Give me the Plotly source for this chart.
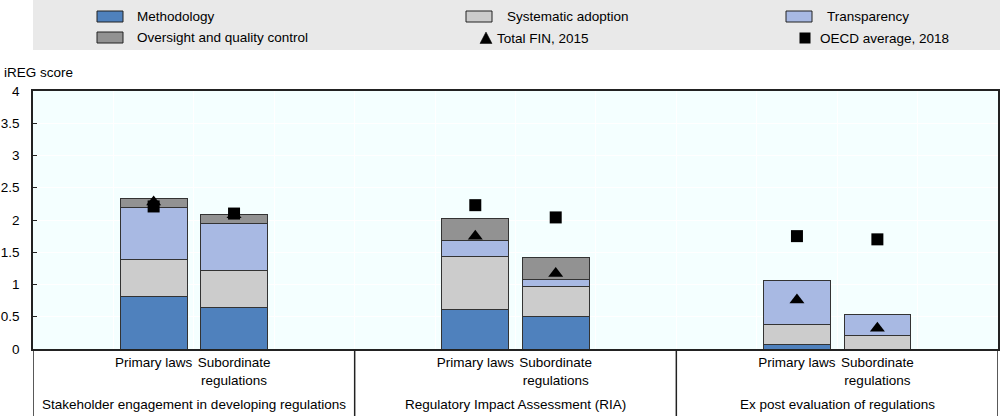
import plotly.graph_objects as go

# ---- data ----
groups = ["Stakeholder engagement in developing regulations",
          "Regulatory Impact Assessment (RIA)",
          "Ex post evaluation of regulations"]
subcats = ["Primary laws", "Subordinate<br>regulations"]

methodology = [0.81, 0.64, 0.61, 0.50, 0.07, 0.0]
systematic = [0.58, 0.58, 0.83, 0.47, 0.31, 0.21]
transparency = [0.81, 0.73, 0.24, 0.11, 0.68, 0.33]
oversight = [0.13, 0.13, 0.34, 0.34, 0.0, 0.0]
total_fin_2015 = [2.28, 2.08, 1.75, 1.17, 0.76, 0.32]
oecd_avg_2018 = [2.21, 2.10, 2.23, 2.04, 1.75, 1.70]

y_ticks = [0, 0.5, 1, 1.5, 2, 2.5, 3, 3.5, 4]
y_ticklabels = ["0", "0.5", "1", "1.5", "2", "2.5", "3", "3.5", "4"]

series = [
    ("Methodology", methodology, "#4f81bd"),
    ("Systematic adoption", systematic, "#cccccc"),
    ("Transparency", transparency, "#a8b9e3"),
    ("Oversight and quality control", oversight, "#929292"),
]

# ---- layout helpers ----
W, H = 1000, 416
L, R, T, B = 33, 2, 91, 67
PW, PH = W - L - R, H - T - B
FONT = "Liberation Sans, Arial, sans-serif"
FS = 13.5
SLOTS = 4  # slots per group: empty, primary, subordinate, empty


def px(x):
    return (x - L) / PW


def py(y):
    return (H - B - y) / PH


xpos = []
xlab = []
for g in range(len(groups)):
    for k in range(len(subcats)):
        xpos.append(g * SLOTS + 1 + k)
        xlab.append(subcats[k])

fig = go.Figure()
for name, vals, col in series:
    fig.add_trace(go.Bar(
        x=xpos, y=vals, name=name, width=0.83,
        marker=dict(color=col, line=dict(color="#333333", width=1)),
        showlegend=False))

fig.add_trace(go.Scatter(
    x=xpos, y=total_fin_2015, mode="markers", name="Total FIN, 2015",
    marker=dict(symbol="triangle-up", size=13, color="black"), showlegend=False))
fig.add_trace(go.Scatter(
    x=xpos, y=oecd_avg_2018, mode="markers", name="OECD average, 2018",
    marker=dict(symbol="square", size=12, color="black"), showlegend=False))

nslots = SLOTS * len(groups)
fig.update_layout(
    width=W, height=H,
    margin=dict(l=L, r=R, t=T, b=B, pad=0, autoexpand=False),
    barmode="stack",
    plot_bgcolor="#f4ffff",
    paper_bgcolor="white",
    font=dict(family=FONT, size=FS, color="black"),
    xaxis=dict(
        range=[-0.5, nslots - 0.5],
        tickvals=xpos, ticktext=xlab, tickangle=0, automargin=False,
        showgrid=False, zeroline=False,
        ticks="", ticklen=0,
        showline=True, linecolor="#222222", linewidth=1.5, mirror=True,
        tickfont=dict(size=FS),
        minor=dict(tickvals=[i + 0.5 for i in range(nslots - 1)],
                   showgrid=True, gridcolor="white", gridwidth=1, ticks=""),
    ),
    yaxis=dict(
        range=[0, 4], tickvals=y_ticks, ticktext=y_ticklabels, automargin=False,
        showgrid=True, gridcolor="white", gridwidth=1,
        zeroline=False, ticks="inside", ticklen=4, tickcolor="#222222",
        showline=True, linecolor="#222222", linewidth=1.5, mirror=True,
        tickfont=dict(size=FS), ticklabelstandoff=9,
    ),
)

shapes = []
annotations = []

# group separators below the axis
for sx in [-0.5] + [g * SLOTS - 0.5 for g in range(1, len(groups))] + [nslots - 0.5]:
    shapes.append(dict(type="line", xref="x", yref="paper", x0=sx, x1=sx,
                       y0=0, y1=py(H), line=dict(color="#222222", width=1.5)))

# group labels
for g, name in enumerate(groups):
    annotations.append(dict(x=g * SLOTS + 1.5, xref="x", y=py(404), yref="paper",
                            text=name, showarrow=False, xanchor="center",
                            yanchor="middle", font=dict(size=FS)))

# y axis title
annotations.append(dict(x=px(2), xref="paper", y=py(72), yref="paper",
                        text="iREG score", showarrow=False, xanchor="left",
                        yanchor="middle", font=dict(size=FS)))

# legend background
shapes.append(dict(type="rect", xref="paper", yref="paper",
                   x0=px(33), x1=px(1000), y0=py(50), y1=py(0),
                   fillcolor="#e9e9e9", line=dict(width=0), layer="below"))

# legend entries: (label, kind, color, swatch_x, text_x, row_y)
legend_items = [
    ("Methodology", "rect", "#4f81bd", 97, 135, 16.5),
    ("Systematic adoption", "rect", "#cccccc", 466, 505, 16.5),
    ("Transparency", "rect", "#a8b9e3", 786, 825, 16.5),
    ("Oversight and quality control", "rect", "#929292", 97, 135, 37.5),
    ("Total FIN, 2015", "tri", "black", 486, 495, 38),
    ("OECD average, 2018", "sq", "black", 805, 818, 38),
]
for label, kind, col, sx, tx, ry in legend_items:
    if kind == "rect":
        shapes.append(dict(type="rect", xref="paper", yref="paper",
                           x0=px(sx), x1=px(sx + 26), y0=py(ry + 5.5), y1=py(ry - 5.5),
                           fillcolor=col, line=dict(color="#222222", width=1)))
    elif kind == "tri":
        path = "M {:.5f} {:.5f} L {:.5f} {:.5f} L {:.5f} {:.5f} Z".format(
            px(sx - 6), py(ry + 5.5), px(sx + 6), py(ry + 5.5), px(sx), py(ry - 6))
        shapes.append(dict(type="path", xref="paper", yref="paper", path=path,
                           fillcolor=col, line=dict(color=col, width=0.5)))
    else:
        shapes.append(dict(type="rect", xref="paper", yref="paper",
                           x0=px(sx - 5.5), x1=px(sx + 5.5), y0=py(ry + 5.5), y1=py(ry - 5.5),
                           fillcolor=col, line=dict(color=col, width=0)))
    annotations.append(dict(x=px(tx), xref="paper", y=py(ry), yref="paper",
                            text=label, showarrow=False, xanchor="left",
                            yanchor="middle", font=dict(size=FS)))

fig.update_layout(shapes=shapes, annotations=annotations)
fig.write_html("out.html",
               config={"displayModeBar": False},
               post_script="document.body.style.margin='0';document.body.style.overflow='hidden';")
